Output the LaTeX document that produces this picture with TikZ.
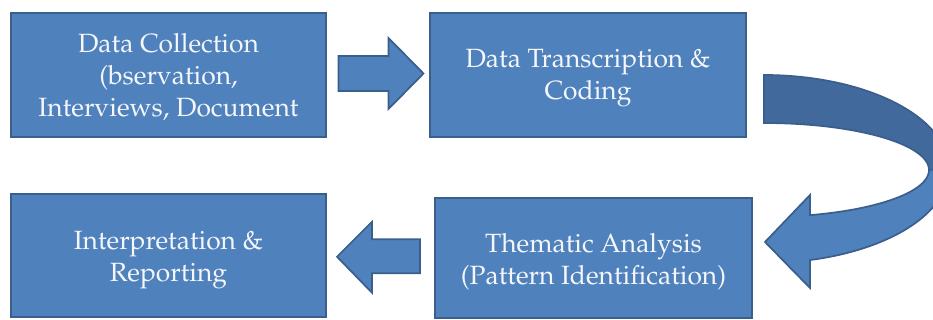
\documentclass[tikz,border=0pt]{standalone}
\usepackage[T1]{fontenc}
\usepackage{mathpazo}
\usetikzlibrary{calc}

\definecolor{boxfill}{HTML}{4F81BD}
\definecolor{boxline}{HTML}{3A5F8C}
\definecolor{backfill}{HTML}{41699B}
\definecolor{boxtext}{HTML}{F4F6FA}

\tikzset{
  stage/.style={draw=boxline, fill=boxfill, line width=1.5pt, inner sep=0pt},
  stagetext/.style={text=boxtext, align=center, inner sep=0pt,
    font=\fontsize{19.8}{24}\selectfont},
  blockarrow/.style={draw=boxline, fill=boxfill, line width=1.3pt, line join=miter},
  blockback/.style={draw=boxline, fill=backfill, line width=1.3pt, line join=miter},
}

\begin{document}
\begin{tikzpicture}[x=0.75pt, y=-0.75pt]
  \useasboundingbox (0,0) rectangle (933,320);
  \clip (0,0) rectangle (933,320);

  % the four process stages
  \node[stage, minimum width=315*0.75pt, minimum height=124*0.75pt] (b1) at (168.5,75) {};
  \node[stage, minimum width=316*0.75pt, minimum height=124*0.75pt] (b2) at (588,75) {};
  \node[stage, minimum width=315*0.75pt, minimum height=123*0.75pt] (b3) at (168.5,255.5) {};
  \node[stage, minimum width=317*0.75pt, minimum height=120*0.75pt] (b4) at (593.5,258) {};

  % their labels
  \node[stagetext] (t1) at ($(b1.center)+(0,2)$)
    {Data Collection\\(bservation,\\Interviews, Document};
  \node[stagetext] (t2) at ($(b2.center)+(0,3)$)
    {Data Transcription \&\\Coding};
  \node[stagetext] (t3) at ($(b3.center)+(0,5)$)
    {Interpretation \&\\Reporting};
  \node[stagetext] (t4) at ($(b4.center)+(0,4)$)
    {Thematic Analysis\\(Pattern Identification)};

  % straight block arrow: collection -> transcription
  \coordinate (m1) at ($(b1.east)!0.5!(b2.west)+(1.5,-1.5)$);
  \begin{scope}[shift={(m1)}]
    \draw[blockarrow] (-41,-17.5) -- (9,-17.5) -- (9,-35.5) -- (44,0)
      -- (9,35.5) -- (9,17.5) -- (-41,17.5) -- cycle;
  \end{scope}

  % straight block arrow: analysis -> interpretation
  \coordinate (m2) at ($(b3.east)!0.5!(b4.west)$);
  \begin{scope}[shift={(m2)}]
    \draw[blockarrow] (-43.5,0) -- (-8.5,-35) -- (-8.5,-17.5) -- (39.5,-17.5)
      -- (39.5,16.5) -- (-8.5,16.5) -- (-8.5,36) -- cycle;
  \end{scope}

  % curved block arrow: transcription -> analysis
  \coordinate (cc) at ($(b2.east)+(17,94)$);
  \begin{scope}[shift={(cc)}]
    % back half of the band
    \draw[blockback]
      plot[domain=-90:0, samples=40] ({185*cos(\x)}, {94*sin(\x)})
      -- plot[domain=0:-90, samples=40] ({165*cos(\x)}, {1+47*sin(\x)})
      -- cycle;
    % front half with the head
    \draw[blockarrow]
      plot[domain=0:75.6, samples=40] ({185*cos(\x)}, {94*sin(\x)})
      -- (46,119) -- (1,73) -- (46,26)
      -- plot[domain=73.8:0, samples=40] ({165*cos(\x)}, {1+47*sin(\x)})
      -- cycle;
  \end{scope}
\end{tikzpicture}
\end{document}
